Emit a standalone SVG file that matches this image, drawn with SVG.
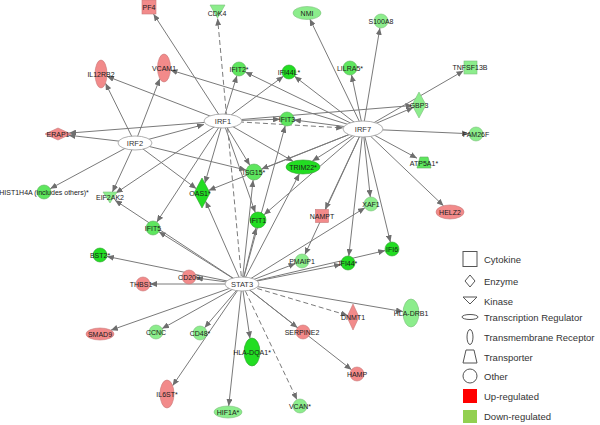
<svg xmlns="http://www.w3.org/2000/svg" width="600" height="425" viewBox="0 0 600 425">
<defs>
<marker id="ah" markerWidth="7" markerHeight="6" refX="7" refY="3" orient="auto" markerUnits="userSpaceOnUse"><path d="M0,0 L7,3 L0,6 z" fill="#6e6e6e"/></marker>
<style>
.e{stroke:#7a7a7a;stroke-width:1;fill:none;marker-end:url(#ah)}
.d{stroke-dasharray:5,3}
.up{fill:#f28a8a;stroke:#c87878;stroke-width:0.6}
.lg{fill:#8ced8c;stroke:#7cc07c;stroke-width:0.6}
.mg{fill:#5ee65e;stroke:#60b060;stroke-width:0.6}
.bg{fill:#22dd22;stroke:#30a030;stroke-width:0.6}
.tf{fill:#ffffff;stroke:#9a9a9a;stroke-width:0.8}
.t{font-family:"Liberation Sans",Arial,sans-serif;font-size:7px;fill:#1a1a1a;text-anchor:middle}
.tt{font-family:"Liberation Sans",Arial,sans-serif;font-size:7.5px;fill:#333;text-anchor:middle}
.li{fill:#fff;stroke:#555;stroke-width:1}
.lt{font-family:"Liberation Sans",Arial,sans-serif;font-size:9.5px;fill:#333}
</style>
</defs>
<rect width="600" height="425" fill="#fff"/>
<g id="connectors">
<line class="e" x1="223" y1="121" x2="153.5" y2="14"/>
<line class="e" x1="223" y1="121" x2="106.9" y2="76.3"/>
<line class="e" x1="223" y1="121" x2="69.1" y2="133.1"/>
<line class="e" x1="223" y1="121" x2="236.9" y2="75.7"/>
<line class="e" x1="223" y1="121" x2="283.4" y2="76.2"/>
<line class="e" x1="223" y1="121" x2="280" y2="119.2"/>
<line class="e d" x1="223" y1="121" x2="343.2" y2="127.9"/>
<line class="e" x1="223" y1="121" x2="249.8" y2="165.2"/>
<line class="e" x1="223" y1="121" x2="204.8" y2="183.3"/>
<line class="e" x1="223" y1="121" x2="255.3" y2="212.5"/>
<line class="e" x1="223" y1="121" x2="156.8" y2="222.1"/>
<line class="e" x1="223" y1="121" x2="115.8" y2="193.1"/>
<line class="e" x1="223" y1="121" x2="293.1" y2="161.3"/>
<line class="e" x1="223" y1="121" x2="412.5" y2="105.5"/>
<line class="e" x1="135" y1="143" x2="68.4" y2="135.2"/>
<line class="e" x1="135" y1="143" x2="105.5" y2="83.2"/>
<line class="e" x1="135" y1="143" x2="159.8" y2="78.7"/>
<line class="e" x1="135" y1="143" x2="50.2" y2="188.7"/>
<line class="e" x1="135" y1="143" x2="112.4" y2="192"/>
<line class="e" x1="135" y1="143" x2="196.3" y2="188.7"/>
<line class="e" x1="135" y1="143" x2="246.2" y2="170.1"/>
<line class="e" x1="135" y1="143" x2="204" y2="124.5"/>
<line class="e" x1="363" y1="129" x2="170.4" y2="70"/>
<line class="e" x1="363" y1="129" x2="245.3" y2="72"/>
<line class="e" x1="363" y1="129" x2="294.5" y2="76.3"/>
<line class="e" x1="363" y1="129" x2="309.8" y2="18.9"/>
<line class="e" x1="363" y1="129" x2="351.5" y2="74.8"/>
<line class="e" x1="363" y1="129" x2="379.9" y2="27.9"/>
<line class="e" x1="363" y1="129" x2="463.5" y2="70.8"/>
<line class="e" x1="363" y1="129" x2="413.3" y2="107.4"/>
<line class="e" x1="363" y1="129" x2="469" y2="133.7"/>
<line class="e" x1="363" y1="129" x2="417" y2="158.2"/>
<line class="e" x1="363" y1="129" x2="443.5" y2="205.8"/>
<line class="e" x1="363" y1="129" x2="390.4" y2="242.2"/>
<line class="e" x1="363" y1="129" x2="370.3" y2="197"/>
<line class="e" x1="363" y1="129" x2="348.8" y2="256"/>
<line class="e" x1="363" y1="129" x2="325.1" y2="209.5"/>
<line class="e" x1="363" y1="129" x2="304.9" y2="254.6"/>
<line class="e" x1="363" y1="129" x2="264" y2="214.8"/>
<line class="e" x1="363" y1="129" x2="312.3" y2="161.1"/>
<line class="e" x1="363" y1="129" x2="261.4" y2="169.1"/>
<line class="e" x1="363" y1="129" x2="208.6" y2="190.4"/>
<line class="e" x1="363" y1="129" x2="293.9" y2="119.9"/>
<line class="e d" x1="242" y1="284" x2="217.6" y2="18.5"/>
<line class="e" x1="242" y1="284" x2="205.6" y2="201.2"/>
<line class="e" x1="242" y1="284" x2="158.9" y2="231.7"/>
<line class="e" x1="242" y1="284" x2="115" y2="200.3"/>
<line class="e" x1="242" y1="284" x2="106.9" y2="256.4"/>
<line class="e" x1="242" y1="284" x2="195.9" y2="277.9"/>
<line class="e" x1="242" y1="284" x2="150" y2="284"/>
<line class="e" x1="242" y1="284" x2="110.8" y2="330.2"/>
<line class="e" x1="242" y1="284" x2="162.1" y2="328.6"/>
<line class="e" x1="242" y1="284" x2="204.6" y2="327.7"/>
<line class="e" x1="242" y1="284" x2="172.6" y2="385.7"/>
<line class="e" x1="242" y1="284" x2="228.7" y2="406"/>
<line class="e" x1="242" y1="284" x2="250" y2="338.4"/>
<line class="e d" x1="242" y1="284" x2="297" y2="399.7"/>
<line class="e" x1="242" y1="284" x2="297.5" y2="327.7"/>
<line class="e" x1="242" y1="284" x2="351.5" y2="369.7"/>
<line class="e d" x1="242" y1="284" x2="347.7" y2="315.4"/>
<line class="e" x1="242" y1="284" x2="403" y2="311.6"/>
<line class="e" x1="242" y1="284" x2="295.5" y2="263.5"/>
<line class="e" x1="242" y1="284" x2="341.1" y2="264.4"/>
<line class="e" x1="242" y1="284" x2="385.2" y2="250.6"/>
<line class="e" x1="242" y1="284" x2="365" y2="207.7"/>
<line class="e" x1="242" y1="284" x2="256.1" y2="227.8"/>
<line class="e" x1="242" y1="284" x2="253.1" y2="180"/>
<line class="e" x1="242" y1="284" x2="299.4" y2="173.8"/>
<line class="e" x1="242" y1="284" x2="285.2" y2="125.8"/>
</g>
<g id="n-PF4"><rect class="up" x="142" y="0" width="14" height="14"/><text class="t" x="149" y="9.5">PF4</text></g>
<g id="n-CDK4"><polygon class="lg" points="210,5 225,5 217.5,18"/><text class="t" x="217" y="16">CDK4</text></g>
<g id="n-NMI"><ellipse class="lg" cx="307" cy="13" rx="14" ry="6.5"/><text class="t" x="307" y="15.5">NMI</text></g>
<g id="n-S100A8"><circle class="lg" cx="381" cy="21" r="7"/><text class="t" x="381" y="23.5">S100A8</text></g>
<g id="n-IL12RB2"><ellipse class="up" cx="101" cy="74" rx="6" ry="14"/><text class="t" x="101" y="76.5">IL12RB2</text></g>
<g id="n-VCAM1"><ellipse class="up" cx="164" cy="68" rx="6.5" ry="14"/><text class="t" x="164" y="70.5">VCAM1</text></g>
<g id="n-IFIT2"><circle class="mg" cx="239" cy="69" r="7"/><text class="t" x="239" y="71.5">IFIT2*</text></g>
<g id="n-IFI44L"><circle class="bg" cx="289" cy="72" r="7"/><text class="t" x="289" y="74.5">IFI44L*</text></g>
<g id="n-LILRA5"><circle class="mg" cx="350" cy="68" r="7"/><text class="t" x="350" y="70.5">LILRA5*</text></g>
<g id="n-TNFSF13B"><rect class="lg" x="464" y="61" width="13" height="13"/><text class="t" x="470" y="69.5">TNFSF13B</text></g>
<g id="n-GBP3"><polygon class="lg" points="419,92 426,105 419,118 412,105"/><text class="t" x="419" y="107.5">GBP3</text></g>
<g id="n-IRF1"><ellipse class="tf" cx="223" cy="121" rx="19" ry="7"/><text class="tt" x="223" y="123.7">IRF1</text></g>
<g id="n-IRF2"><ellipse class="tf" cx="135" cy="143" rx="17" ry="7"/><text class="tt" x="135" y="145.7">IRF2</text></g>
<g id="n-ERAP1"><polygon class="up" points="45,134 58,128 71,134 58,140"/><text class="t" x="58" y="136.5">ERAP1</text></g>
<g id="n-IFIT3"><circle class="mg" cx="287" cy="119" r="7"/><text class="t" x="287" y="121.5">IFIT3</text></g>
<g id="n-IRF7"><ellipse class="tf" cx="363" cy="129" rx="20" ry="8"/><text class="tt" x="363" y="131.7">IRF7</text></g>
<g id="n-FAM26F"><circle class="lg" cx="476" cy="134" r="7"/><text class="t" x="476" y="136.5">FAM26F</text></g>
<g id="n-ATP5A1"><polygon class="mg" points="420,157 428,157 431,168 417,168"/><text class="t" x="424" y="165.5">ATP5A1*</text></g>
<g id="n-HIST1H4A"><circle class="mg" cx="44" cy="192" r="7"/><text class="t" x="44" y="194.5">HIST1H4A (includes others)*</text></g>
<g id="n-EIF2AK2"><polygon class="lg" points="103,192 117,192 110,203"/><text class="t" x="110" y="200">EIF2AK2</text></g>
<g id="n-OAS1"><polygon class="bg" points="202,178 210,193 202,208 194,193"/><text class="t" x="200" y="195.5">OAS1*</text></g>
<g id="n-ISG15"><circle class="mg" cx="254" cy="172" r="8"/><text class="t" x="254" y="174.5">ISG15*</text></g>
<g id="n-TRIM22"><ellipse class="bg" cx="303" cy="167" rx="17" ry="7"/><text class="t" x="303" y="169.5">TRIM22*</text></g>
<g id="n-IFIT1"><circle class="bg" cx="258" cy="220" r="8"/><text class="t" x="258" y="222.5">IFIT1</text></g>
<g id="n-NAMPT"><rect class="up" x="315.5" y="209.5" width="13" height="13"/><text class="t" x="322" y="218.5">NAMPT</text></g>
<g id="n-XAF1"><circle class="lg" cx="371" cy="204" r="7"/><text class="t" x="371" y="206.5">XAF1</text></g>
<g id="n-HELZ2"><ellipse class="up" cx="450" cy="212" rx="14" ry="7"/><text class="t" x="450" y="214.5">HELZ2</text></g>
<g id="n-IFIT5"><circle class="mg" cx="153" cy="228" r="7"/><text class="t" x="153" y="230.5">IFIT5</text></g>
<g id="n-BST2"><circle class="bg" cx="100" cy="255" r="7"/><text class="t" x="100" y="257.5">BST2*</text></g>
<g id="n-CD209"><circle class="up" cx="189" cy="277" r="7"/><text class="t" x="189" y="279.5">CD209</text></g>
<g id="n-PMAIP1"><circle class="lg" cx="302" cy="261" r="7"/><text class="t" x="302" y="263.5">PMAIP1</text></g>
<g id="n-IFI44"><circle class="bg" cx="348" cy="263" r="7"/><text class="t" x="348" y="265.5">IFI44*</text></g>
<g id="n-IFI6"><circle class="bg" cx="392" cy="249" r="7"/><text class="t" x="392" y="251.5">IFI6</text></g>
<g id="n-STAT3"><ellipse class="tf" cx="242" cy="284" rx="17" ry="7"/><text class="tt" x="242" y="286.7">STAT3</text></g>
<g id="n-THBS1"><circle class="up" cx="143" cy="284" r="7"/><text class="t" x="141" y="286.5">THBS1</text></g>
<g id="n-SMAD9"><ellipse class="up" cx="100" cy="334" rx="14" ry="6"/><text class="t" x="100" y="336.5">SMAD9</text></g>
<g id="n-CCNC"><circle class="lg" cx="156" cy="332" r="7"/><text class="t" x="156" y="334.5">CCNC</text></g>
<g id="n-CD48"><circle class="lg" cx="200" cy="333" r="7"/><text class="t" x="200" y="335.5">CD48*</text></g>
<g id="n-IL6ST"><ellipse class="up" cx="167" cy="394" rx="7" ry="14"/><text class="t" x="167" y="396.5">IL6ST*</text></g>
<g id="n-HLA-DQA1"><ellipse class="bg" cx="252" cy="352" rx="8" ry="14"/><text class="t" x="252" y="354.5">HLA-DQA1*</text></g>
<g id="n-HIF1A"><ellipse class="lg" cx="228" cy="412" rx="14" ry="6"/><text class="t" x="228" y="414.5">HIF1A*</text></g>
<g id="n-VCAN"><circle class="lg" cx="300" cy="406" r="7"/><text class="t" x="300" y="408.5">VCAN*</text></g>
<g id="n-SERPINE2"><circle class="up" cx="303" cy="332" r="7"/><text class="t" x="302" y="334.5">SERPINE2</text></g>
<g id="n-HAMP"><circle class="up" cx="357" cy="374" r="7"/><text class="t" x="357" y="376.5">HAMP</text></g>
<g id="n-DNMT1"><polygon class="up" points="353,304 359,317 353,330 347,317"/><text class="t" x="353" y="319.5">DNMT1</text></g>
<g id="n-HLA-DRB1"><ellipse class="lg" cx="411" cy="313" rx="8" ry="14"/><text class="t" x="411" y="315.5">HLA-DRB1</text></g>
<g id="legend">
<rect class="li" x="463" y="251.5" width="14" height="15"/><text class="lt" x="484" y="262.5">Cytokine</text>
<polygon class="li" points="470,275 475,281 470,287 465,281"/><text class="lt" x="484" y="284.5">Enzyme</text>
<polygon class="li" points="463,297 477,297 470,304"/><text class="lt" x="484" y="304.5">Kinase</text>
<ellipse class="li" cx="470" cy="317" rx="8" ry="2.5"/><text class="lt" x="484" y="320.5">Transcription Regulator</text>
<ellipse class="li" cx="470" cy="337" rx="3" ry="7.5"/><text class="lt" x="484" y="340.5">Transmembrane Receptor</text>
<polygon class="li" points="466,350 474,350 477,363 463,363"/><text class="lt" x="484" y="360.5">Transporter</text>
<circle class="li" cx="470" cy="376" r="7"/><text class="lt" x="484" y="379.5">Other</text>
<rect x="463" y="389" width="14" height="14" fill="#ff0000"/><text class="lt" x="484" y="399.5">Up-regulated</text>
<rect x="463" y="410" width="14" height="13" fill="#92d050"/><text class="lt" x="484" y="419.5">Down-regulated</text>
</g>
</svg>
